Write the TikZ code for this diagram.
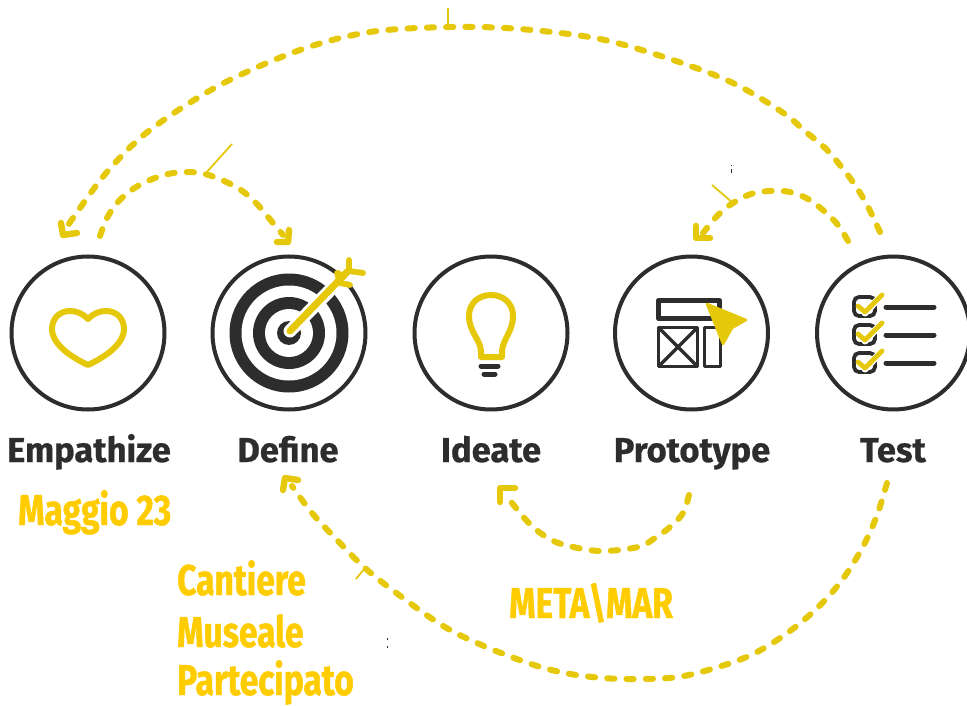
\documentclass[tikz,border=0pt]{standalone}
\usepackage{fontspec}
\setmainfont{Fira Sans}
\newfontfamily\labfont[BoldFeatures={FakeBold=0.6}]{Fira Sans}
\newfontfamily\yelfont[BoldFeatures={FakeBold=1.1,FakeStretch=0.78}]{Fira Sans}
\definecolor{ink}{HTML}{2D2D2D}
\definecolor{arc}{HTML}{E6C80A}
\definecolor{yeltext}{HTML}{FFCC00}
\tikzset{
  ringnode/.style={circle,draw=ink,line width=4pt,minimum size=153pt,inner sep=0pt,fill=white},
  steplabel/.style={anchor=base,inner sep=0pt,text=ink,font=\labfont\fontsize{34.5}{34.5}\selectfont\bfseries},
  yellabel/.style={anchor=base west,inner sep=0pt,text=yeltext,font=\yelfont\fontsize{43}{43}\selectfont\bfseries},
  dashedarc/.style={draw=arc,line width=6pt,line cap=round,dash pattern=on 7.2pt off 12.1pt},
  chevron/.style={draw=arc,line width=6.4pt,line cap=round,line join=round},
  tick/.style={draw=arc,line width=1.8pt},
  yicon/.style={draw=arc,line width=6pt,line cap=round,line join=round},
  kicon/.style={draw=ink,line width=5pt,line cap=round,line join=round},
  thin icon/.style={draw=ink,line width=3.4pt,line join=round},
  speck/.style={draw=ink,line width=0.9pt}
}
\begin{document}
\begin{tikzpicture}[x=1pt,y=-1pt]
\useasboundingbox (0,0) rectangle (967,706);
\clip (0,0) rectangle (967,706);
\fill[white] (0,0) rectangle (967,706);

% circles
\node[ringnode] (empathize) at (88,333) {};
\node[ringnode] (define) at (289,333) {};
\node[ringnode] (ideate) at (491,333) {};
\node[ringnode] (prototype) at (691.5,333) {};
\node[ringnode] (test) at (893.5,333) {};

% labels
\node[steplabel] (lempathize) at (89,462) {Empathize};
\node[steplabel] (ldefine) at (288,462) {Define};
\node[steplabel] (lideate) at (491,462) {Ideate};
\node[steplabel] (lprototype) at (692,462) {Prototype};
\node[steplabel] (ltest) at (893,462) {Test};

\node[yellabel] (maggio) at (18,525) {Maggio 23};
\node[yellabel] (cantiere) at (177,595) {Cantiere};
\node[yellabel] (museale) at (177,647) {Museale};
\node[yellabel] (partecipato) at (177,695) {Partecipato};
\node[yellabel] (metamar) at (509,618) {META\textbackslash MAR};

% heart
\draw[yicon] (88,319) .. controls (94,313) and (100,311) .. (106,311)
  .. controls (117,311) and (124,319) .. (124,329)
  .. controls (124,345) and (103,358) .. (88,365)
  .. controls (73,358) and (52,345) .. (52,329)
  .. controls (52,319) and (59,311) .. (70,311)
  .. controls (76,311) and (82,313) .. (88,319) -- cycle;

% target
\fill[ink] (289,333) circle (59.5);
\fill[white] (289,333) circle (47.5);
\fill[ink] (289,333) circle (36);
\fill[white] (289,333) circle (24);
\fill[ink] (289,333) circle (12);
\draw[white,line width=13pt,line cap=round] (290,331) -- (345,275);
\draw[white,line width=14pt,line cap=round] (340,280) -- (350,268);
\draw[yicon,line width=7pt] (290,331) -- (349,270);
\draw[yicon,line width=5.8pt] (337,273) -- (340,283) -- (350,285);
\draw[yicon,line width=5.8pt] (349,260) -- (349,271) -- (363,273);
\draw[yicon,line width=5.8pt] (343,277) -- (338,273);

% bulb
\draw[yicon] (481,357) -- (481,352)
  .. controls (481,340) and (469,332) .. (469,316)
  .. controls (469,303) and (479,295) .. (491,295)
  .. controls (503,295) and (513,303) .. (513,316)
  .. controls (513,332) and (502,340) .. (502,352)
  -- (502,357) -- cycle;
\draw[kicon] (481,366) -- (498,366);
\draw[kicon] (484,374) -- (495,374);

% prototype icon
\draw[kicon,line cap=butt] (658.5,300.5) rectangle (719.5,318.5);
\draw[thin icon] (658.5,327.5) rectangle (697.5,366.5);
\draw[thin icon] (658.5,327.5) -- (697.5,366.5);
\draw[thin icon] (697.5,327.5) -- (658.5,366.5);
\draw[thin icon] (704.5,327.5) rectangle (720.5,366.5);
\fill[arc,draw=arc,line width=2.5pt,line join=round] (707,304) -- (746,320) -- (732,328) -- (723,344) -- cycle;

% test icon
\foreach \dy/\nm in {0/a,28/b,56/c}{
  \draw[draw=ink,line width=3.8pt,rounded corners=5pt] (854,297+\dy) rectangle (875,316+\dy);
  \draw[white,line width=7pt,line cap=round,line join=round] (865,313+\dy) -- (881,296+\dy);
  \draw[yicon,line width=4.8pt] (858,306+\dy) -- (865,312+\dy) -- (882,295+\dy);
  \draw[kicon] (886,307+\dy) -- (934,307+\dy);
}

% connector ends
\coordinate (topstart) at (880,232);
\coordinate (topend) at (68,226);
\coordinate (leftstart) at (100,236);
\coordinate (leftend) at (283,235);
\coordinate (rightstart) at (848,241);
\coordinate (rightend) at (703,233);
\coordinate (midstart) at (689,495);
\coordinate (midend) at (505,494);
\coordinate (botstart) at (887,483);
\coordinate (botend) at (292,486);

% arcs
\draw[dashedarc] plot[smooth,tension=0.55] coordinates {(topstart) (866,203) (850,178) (827,150) (806,132) (782,112) (733,83) (673,60) (600,39) (520,29) (450,27) (370,32) (300,50) (220,85) (150,130) (107,172) (73,218) (topend)};
\draw[dashedarc] plot[smooth,tension=0.6] coordinates {(leftstart) (107,218) (118,202) (133,189) (150,180) (168,174) (187,172) (205,174) (224,181) (241,190) (256,203) (268,217) (leftend)};
\draw[dashedarc] plot[smooth,tension=0.6] coordinates {(rightstart) (838,225) (824,211) (808,199) (790,192) (770,191) (751,194) (733,203) (718,215) (rightend)};
\draw[dashedarc] plot[smooth,tension=0.6] coordinates {(midstart) (683,513) (670,527) (655,538) (638,547) (600,551) (565,545) (548,538) (533,527) (520,513) (midend)};
\draw[dashedarc] plot[smooth,tension=0.6] coordinates {(botstart) (876,518) (860,552) (839,584) (813,612) (783,636) (751,655) (715,668) (678,677) (640,679) (603,678) (565,673) (528,663) (477,643) (440,624) (395,592) (365,568) (338,541) (312,513) (botend)};

% arrow heads
\draw[chevron] (61,223) -- (63,235) -- (77,233);
\draw[chevron] (289,230) -- (288,242) -- (277,242);
\draw[chevron] (696,226) -- (696,238) -- (710,238);
\draw[chevron] (500,502) -- (500,488) -- (515,488);
\draw[chevron] (283,490) -- (285,478) -- (298,480);

% ticks
\coordinate (tickA) at (448,8);
\coordinate (tickAb) at (448,27);
\coordinate (tickB) at (232,144);
\coordinate (tickBb) at (205,174);
\coordinate (tickC) at (712,185);
\coordinate (tickCb) at (733,203);
\coordinate (tickD) at (356,579);
\coordinate (tickDb) at (365,568);
\draw[tick] (tickA) -- (tickAb);
\draw[tick] (tickB) -- (tickBb);
\draw[tick] (tickC) -- (tickCb);
\draw[tick] (tickD) -- (tickDb);

% specks
\draw[speck] (731.5,165) -- (731.5,166.5);
\draw[speck] (731.5,169) -- (731.5,173);
\draw[speck] (387,638) -- (387,639.5);
\draw[speck] (387,646) -- (387,647.5);
\end{tikzpicture}
\end{document}
